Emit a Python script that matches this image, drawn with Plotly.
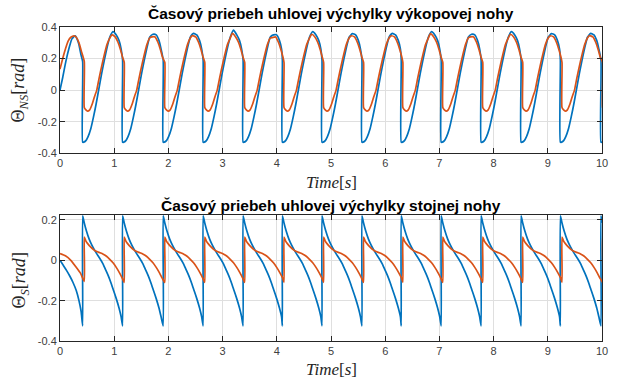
import plotly.graph_objects as go
from plotly.subplots import make_subplots

# časy dopadu (skok modrej krivky), s
IMPACT = [0.418, 1.155, 1.904, 2.641, 3.378, 4.103, 4.834, 5.571, 6.296, 7.033,
          7.770, 8.507, 9.232, 9.981]
RED_LAG = 0.03   # oranžová krivka skáče o chvíľu neskôr
T_END = 10.05

# --- výkopová noha: začiatok (0 .. prvý dopad)
NS_BLUE_HEAD_T = [0.0, 0.05, 0.11, 0.17, 0.22, 0.28, 0.34, 0.39, 0.418]
NS_BLUE_HEAD_V = [0.0, 0.08, 0.185, 0.27, 0.325, 0.344, 0.30, 0.22, 0.18]
NS_RED_HEAD_T = [0.0, 0.05, 0.10, 0.15, 0.20, 0.26, 0.30, 0.35, 0.40, 0.448]
NS_RED_HEAD_V = [0.133, 0.20, 0.26, 0.31, 0.335, 0.344, 0.335, 0.30, 0.24, 0.18]

# --- výkopová noha: tvar jedného kroku (fáza od skoku)
NS_BLUE_PHASE = [0.00, 0.02, 0.06, 0.10, 0.15, 0.20, 0.25, 0.30, 0.35, 0.40,
                 0.45, 0.50, 0.56, 0.62, 0.67, 0.71, 0.735]
NS_BLUE_SHAPE = [-0.33, -0.33, -0.32, -0.295, -0.245, -0.17, -0.085, 0.01, 0.105, 0.19,
                 0.27, 0.335, 0.36, 0.35, 0.315, 0.26, 0.19]
NS_BLUE_PEAKS = [0.371, 0.354, 0.36, 0.38, 0.35, 0.371, 0.358, 0.36, 0.371, 0.354,
                 0.371, 0.358, 0.36]

NS_RED_PHASE = [0.00, 0.03, 0.06, 0.10, 0.15, 0.19, 0.23, 0.27, 0.32, 0.37,
                0.42, 0.47, 0.51, 0.57, 0.62, 0.67, 0.705, 0.735]
NS_RED_SHAPE = [-0.11, -0.125, -0.133, -0.125, -0.085, -0.04, 0.0, 0.07, 0.15, 0.225,
                0.29, 0.33, 0.345, 0.337, 0.305, 0.255, 0.21, 0.175]
NS_RED_PEAKS = [0.35, 0.337, 0.345, 0.36, 0.333, 0.354, 0.344, 0.344, 0.358, 0.337,
                0.354, 0.344, 0.345]

# --- stojná noha
S_BLUE_HEAD_T = [0.0, 0.06, 0.12, 0.18, 0.24, 0.30, 0.35, 0.39, 0.418]
S_BLUE_HEAD_V = [0.0, -0.025, -0.05, -0.078, -0.11, -0.15, -0.20, -0.255, -0.325]
S_RED_HEAD_T = [0.0, 0.10, 0.20, 0.30, 0.38, 0.448]
S_RED_HEAD_V = [0.033, 0.022, 0.0, -0.035, -0.065, -0.105]

S_BLUE_PHASE = [0.00, 0.03, 0.07, 0.12, 0.17, 0.22, 0.27, 0.32, 0.37, 0.42,
                0.47, 0.52, 0.57, 0.62, 0.67, 0.71, 0.735]
S_BLUE_SHAPE = [0.22, 0.185, 0.145, 0.105, 0.075, 0.05, 0.028, 0.008, -0.015, -0.045,
                -0.075, -0.11, -0.15, -0.19, -0.235, -0.28, -0.325]
S_RED_PHASE = [0.00, 0.03, 0.07, 0.12, 0.17, 0.23, 0.29, 0.35, 0.41, 0.47,
               0.53, 0.59, 0.65, 0.70, 0.735]
S_RED_SHAPE = [0.115, 0.095, 0.08, 0.065, 0.053, 0.043, 0.037, 0.03, 0.02, 0.005,
               -0.012, -0.035, -0.062, -0.088, -0.11]

TITLE_NS = "Časový priebeh uhlovej výchylky výkopovej nohy"
TITLE_S = "Časový priebeh uhlovej výchylky stojnej nohy"

BLUE = "#0072BD"
RED = "#D95319"
AX = "#262626"


def build_series(head_t, head_v, jumps, phase, shape, peak_at=None, peaks=()):
    # poskladá krivku z odčítaného začiatku a odčítaného tvaru kroku
    t, v = list(head_t), list(head_v)
    for k, tj in enumerate(jumps):
        nxt = jumps[k + 1] if k + 1 < len(jumps) else None
        for j in range(len(phase) - 1):
            x = tj + phase[j]
            if (nxt is not None and x >= nxt) or x > T_END:
                break
            y = peaks[k] if (j == peak_at and k < len(peaks)) else shape[j]
            t.append(x)
            v.append(y)
        if nxt is not None:
            t.append(nxt)
            v.append(shape[-1])
    return t, v


red_jumps = [ti + RED_LAG for ti in IMPACT]

ns_blue = build_series(NS_BLUE_HEAD_T, NS_BLUE_HEAD_V, IMPACT, NS_BLUE_PHASE,
                       NS_BLUE_SHAPE, 12, NS_BLUE_PEAKS)
ns_red = build_series(NS_RED_HEAD_T, NS_RED_HEAD_V, red_jumps, NS_RED_PHASE,
                      NS_RED_SHAPE, 12, NS_RED_PEAKS)
s_blue = build_series(S_BLUE_HEAD_T, S_BLUE_HEAD_V, IMPACT, S_BLUE_PHASE, S_BLUE_SHAPE)
s_red = build_series(S_RED_HEAD_T, S_RED_HEAD_V, red_jumps, S_RED_PHASE, S_RED_SHAPE)

fig = make_subplots(rows=2, cols=1)

line = dict(width=1.7, shape="spline", smoothing=0.5)
fig.add_trace(go.Scatter(x=ns_blue[0], y=ns_blue[1], mode="lines",
                         line=dict(color=BLUE, **line)), row=1, col=1)
fig.add_trace(go.Scatter(x=ns_red[0], y=ns_red[1], mode="lines",
                         line=dict(color=RED, **line)), row=1, col=1)
fig.add_trace(go.Scatter(x=s_blue[0], y=s_blue[1], mode="lines",
                         line=dict(color=BLUE, **line)), row=2, col=1)
fig.add_trace(go.Scatter(x=s_red[0], y=s_red[1], mode="lines",
                         line=dict(color=RED, **line)), row=2, col=1)

tickfont = dict(family="Liberation Sans, Arial, sans-serif", size=11, color="#404040")
axis = dict(showgrid=True, gridcolor="#dfdfdf", gridwidth=1, zeroline=False,
            showline=True, linecolor=AX, linewidth=1, mirror="ticks",
            ticks="inside", ticklen=5, tickcolor=AX, tickfont=tickfont,
            automargin=False)

fig.update_xaxes(range=[0, 10], tickvals=list(range(11)), **axis)
fig.update_yaxes(**axis)
fig.update_yaxes(range=[-0.4, 0.4], tickvals=[-0.4, -0.2, 0, 0.2, 0.4],
                 ticktext=["-0.4", "-0.2", "0", "0.2", "0.4"], domain=[0.598, 1.0],
                 row=1, col=1)
fig.update_yaxes(range=[-0.4, 0.224], tickvals=[-0.4, -0.2, 0, 0.2],
                 ticktext=["-0.4", "-0.2", "0", "0.2"], domain=[0.0, 0.401],
                 row=2, col=1)

title_font = dict(family="Liberation Sans, Arial, sans-serif", size=15.5, color="#000000")
label_font = dict(family="Liberation Serif, Times New Roman, serif", size=17, color=AX)
ylabel_font = dict(family="Liberation Serif, Times New Roman, serif", size=18, color=AX)

H_PLOT = 381 - 27 - 40


def py(px):
    # pixel od vrchu -> paper y
    return (381 - 40 - px) / H_PLOT


annotations = [
    dict(text="<b>%s</b>" % TITLE_NS, x=0.5, y=py(13), font=title_font),
    dict(text="<b>%s</b>" % TITLE_S, x=0.5, y=py(205), font=title_font),
    dict(text="<i>Time</i>[<i>s</i>]", x=0.5, y=py(182), font=label_font),
    dict(text="<i>Time</i>[<i>s</i>]", x=0.5, y=py(369), font=label_font),
    dict(text="Θ<sub><i>NS</i></sub>[<i>rad</i>]", x=-0.073, y=py(90),
         textangle=-90, font=ylabel_font),
    dict(text="Θ<sub><i>S</i></sub>[<i>rad</i>]", x=-0.073, y=py(280),
         textangle=-90, font=ylabel_font),
]
for a in annotations:
    a.update(xref="paper", yref="paper", showarrow=False,
             xanchor="center", yanchor="middle")

fig.update_layout(
    width=618, height=381,
    margin=dict(l=60, r=16, t=27, b=40),
    paper_bgcolor="white", plot_bgcolor="white",
    showlegend=False,
    annotations=annotations,
)

fig.write_html("out.html", config={"displayModeBar": False},
               post_script="document.body.style.margin='0px';")
